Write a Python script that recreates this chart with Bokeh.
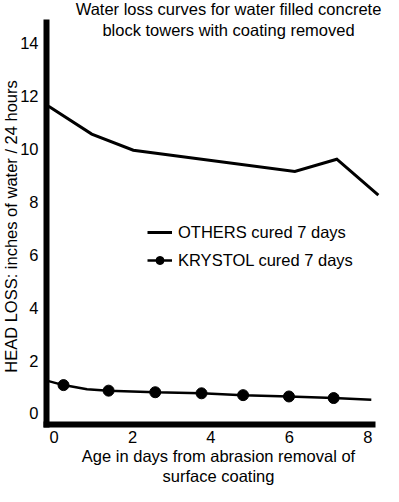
import math
from bokeh.plotting import figure
from bokeh.models import Label, Legend, LegendItem, Range1d, FixedTicker
from bokeh.embed import file_html
from bokeh.resources import INLINE

# ---- data ----
others_days = [-0.14, 0.96, 2.02, 6.14, 7.21, 8.27]
others_loss = [11.61, 10.56, 9.95, 9.15, 9.61, 8.25]

krystol_line_days = [-0.14, 0.24, 0.84, 1.39, 2.58, 3.76, 4.82, 5.99, 7.13, 8.09]
krystol_line_loss = [1.22, 1.07, 0.91, 0.86, 0.80, 0.76, 0.69, 0.64, 0.58, 0.52]

krystol_dot_days = [0.24, 1.39, 2.58, 3.76, 4.82, 5.99, 7.13]
krystol_dot_loss = [1.07, 0.86, 0.80, 0.76, 0.69, 0.64, 0.58]

x_ticks = [0, 2, 4, 6, 8]
y_ticks = [0, 2, 4, 6, 8, 10, 12, 14]
x_axis_bounds = (-0.194, 8.12)
y_axis_bounds = (-0.42, 14.78)

title_lines = ["Water loss curves for water filled concrete",
               "block towers with coating removed"]
xlabel_lines = ["Age in days from abrasion removal of", "surface coating"]
ylabel_text = "HEAD LOSS: inches of water / 24 hours"
legend_labels = ["OTHERS cured 7 days", "KRYSTOL cured 7 days"]

FONT = "Liberation Sans"
FS = "16.5px"
INK = "#000000"
W, H = 383, 486

p = figure(width=W, height=H,
           x_range=Range1d(-1.367, 8.401), y_range=Range1d(-2.764, 15.612),
           output_backend="svg", toolbar_location=None,
           min_border=0, min_border_left=0, min_border_right=0,
           min_border_top=0, min_border_bottom=0)
p.outline_line_color = None
p.xgrid.visible = False
p.ygrid.visible = False
p.background_fill_color = "white"
p.border_fill_color = "white"

p.xaxis.fixed_location = y_axis_bounds[0]
p.yaxis.fixed_location = x_axis_bounds[0]
p.xaxis.bounds = x_axis_bounds
p.yaxis.bounds = y_axis_bounds

for ax, ticks in ((p.xaxis, x_ticks), (p.yaxis, y_ticks)):
    ax.ticker = FixedTicker(ticks=ticks)
    ax.major_tick_line_color = None
    ax.minor_tick_line_color = None
    ax.axis_line_color = "black"
    ax.axis_line_width = 6
    ax.axis_line_cap = "square"
    ax.major_label_text_font = FONT
    ax.major_label_text_font_size = FS
    ax.major_label_text_color = INK
p.xaxis.major_label_standoff = 0
p.yaxis.major_label_standoff = 2

# data lines
r_o = p.line(others_days, others_loss, line_color="black", line_width=3, line_join="miter")
r_k = p.line(krystol_line_days, krystol_line_loss, line_color="black", line_width=2.5)
r_kd = p.scatter(krystol_dot_days, krystol_dot_loss, size=11, marker="circle",
                 fill_color="black", line_color="black")

legend = Legend(items=[LegendItem(label=legend_labels[0], renderers=[r_o]),
                       LegendItem(label=legend_labels[1], renderers=[r_k, r_kd])],
                location=(147, 216), padding=0, margin=0, spacing=8,
                glyph_width=25, glyph_height=20, label_height=20, label_standoff=6,
                border_line_color=None, background_fill_alpha=0,
                label_text_font=FONT, label_text_font_size=FS, label_text_color=INK)
p.add_layout(legend, "center")


def add_text(x, y, txt, angle=0.0, baseline="alphabetic"):
    p.add_layout(Label(x=x, y=y, x_units="screen", y_units="screen", text=txt,
                       angle=angle, text_align="center", text_baseline=baseline,
                       text_font=FONT, text_font_size=FS, text_color=INK))


# title (two lines)
add_text(228, 478, title_lines[0])
add_text(228, 457, title_lines[1])
# x label (two lines)
add_text(218, 31, xlabel_lines[0])
add_text(218, 11, xlabel_lines[1])
# y label (rotated)
add_text(10, 260, ylabel_text, angle=math.pi / 2, baseline="middle")

open("out.html", "w").write(file_html(p, INLINE))
